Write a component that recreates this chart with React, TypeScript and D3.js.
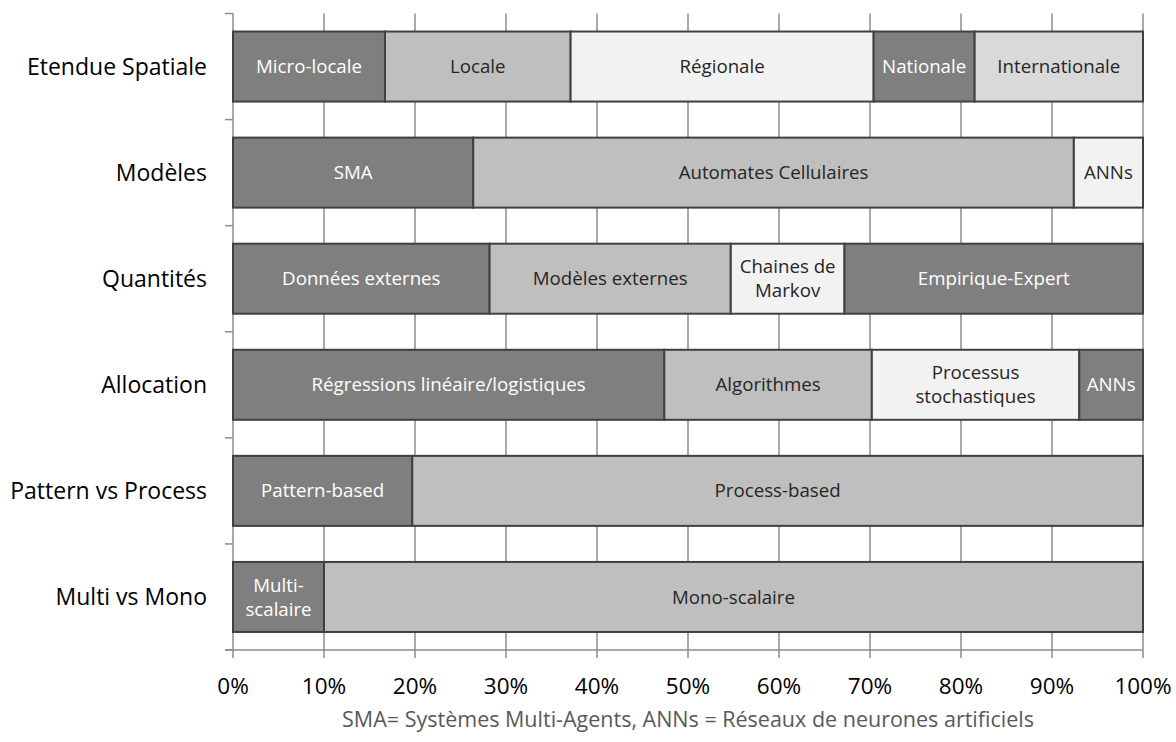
import React from "react";
import * as d3 from "d3";

const categories = ["Etendue Spatiale", "Modèles", "Quantités", "Allocation", "Pattern vs Process", "Multi vs Mono"];

// each row: segment labels, widths (%), fill type
const etendueLabels = ["Micro-locale", "Locale", "Régionale", "Nationale", "Internationale"];
const etendueValues = [16.7, 20.4, 33.3, 11.1, 18.5];
const etendueFills = ["dark", "mid", "light", "dark", "pale"];

const modelesLabels = ["SMA", "Automates Cellulaires", "ANNs"];
const modelesValues = [26.4, 66.0, 7.6];
const modelesFills = ["dark", "mid", "light"];

const quantitesLabels = ["Données externes", "Modèles externes", "Chaines de\nMarkov", "Empirique-Expert"];
const quantitesValues = [28.2, 26.5, 12.5, 32.8];
const quantitesFills = ["dark", "mid", "light", "dark"];

const allocationLabels = ["Régressions linéaire/logistiques", "Algorithmes", "Processus\nstochastiques", "ANNs"];
const allocationValues = [47.4, 22.8, 22.8, 7.0];
const allocationFills = ["dark", "mid", "light", "dark"];

const patternLabels = ["Pattern-based", "Process-based"];
const patternValues = [19.7, 80.3];
const patternFills = ["dark", "mid"];

const multiLabels = ["Multi-\nscalaire", "Mono-scalaire"];
const multiValues = [10.0, 90.0];
const multiFills = ["dark", "mid"];

const xTicks = [0, 10, 20, 30, 40, 50, 60, 70, 80, 90, 100];
const footnote = "SMA= Systèmes Multi-Agents, ANNs = Réseaux de neurones artificiels";

const rows = [
  { labels: etendueLabels, values: etendueValues, fills: etendueFills },
  { labels: modelesLabels, values: modelesValues, fills: modelesFills },
  { labels: quantitesLabels, values: quantitesValues, fills: quantitesFills },
  { labels: allocationLabels, values: allocationValues, fills: allocationFills },
  { labels: patternLabels, values: patternValues, fills: patternFills },
  { labels: multiLabels, values: multiValues, fills: multiFills },
];

const fillColor: Record<string, string> = {
  dark: "#7f7f7f",
  mid: "#bfbfbf",
  light: "#f2f2f2",
  pale: "#d9d9d9",
};
const textColor: Record<string, string> = {
  dark: "#ffffff",
  mid: "#262626",
  light: "#262626",
  pale: "#262626",
};

const FONT = "'Open Sans', sans-serif";

export default function App() {
  const W = 1176;
  const H = 742;
  const left = 233;
  const right = 1143;
  const top = 13.5;
  const bottom = 650;

  const x = d3.scaleLinear().domain([0, 100]).range([left, right]);
  const y = d3.scaleBand<string>().domain(categories).range([top, bottom]).paddingInner(0.34).paddingOuter(0.17);
  const step = y.step();
  const gridColor = "#8c8c8c";

  return (
    <svg width={W} height={H} style={{ position: "absolute", left: 0, top: 0 }} fontFamily={FONT}>
      <rect width={W} height={H} fill="#fff" />
      {xTicks.map((t) => (
        <line key={"g" + t} x1={x(t)} x2={x(t)} y1={top} y2={bottom + 8} stroke={gridColor} strokeWidth={1.5} />
      ))}
      {d3.range(categories.length + 1).map((i) => (
        <line key={"yt" + i} x1={left - 8} x2={left} y1={top + i * step} y2={top + i * step} stroke={gridColor} strokeWidth={1.5} />
      ))}
      <line x1={left - 8} x2={right} y1={bottom} y2={bottom} stroke={gridColor} strokeWidth={1.5} />
      {rows.map((row, ri) => {
        const cat = categories[ri];
        const y0 = y(cat)!;
        const bh = y.bandwidth();
        let acc = 0;
        return (
          <g key={cat}>
            {row.values.map((v, si) => {
              const x0 = x(acc);
              acc += v;
              const x1 = x(acc);
              const lines = row.labels[si].split("\n");
              const cx = (x0 + x1) / 2;
              const cy = y0 + bh / 2;
              const lh = 24;
              return (
                <g key={si}>
                  <rect x={x0} y={y0} width={x1 - x0} height={bh} fill={fillColor[row.fills[si]]} stroke="#404040" strokeWidth={2} />
                  <text x={cx} textAnchor="middle" fontSize={18.7} fill={textColor[row.fills[si]]}>
                    {lines.map((ln, li) => (
                      <tspan key={li} x={cx} y={cy + (li - (lines.length - 1) / 2) * lh} dy="0.35em">
                        {ln}
                      </tspan>
                    ))}
                  </text>
                </g>
              );
            })}
            <text x={207} y={y0 + bh / 2} dy="0.35em" textAnchor="end" fontSize={23} fill="#000">
              {cat}
            </text>
          </g>
        );
      })}
      {xTicks.map((t) => (
        <text key={"xl" + t} x={x(t)} y={686} dy="0.35em" textAnchor="middle" fontSize={22.5} fill="#000">
          {t + "%"}
        </text>
      ))}
      <text x={688} y={719} dy="0.35em" textAnchor="middle" fontSize={21.5} fill="#595959">
        {footnote}
      </text>
    </svg>
  );
}
